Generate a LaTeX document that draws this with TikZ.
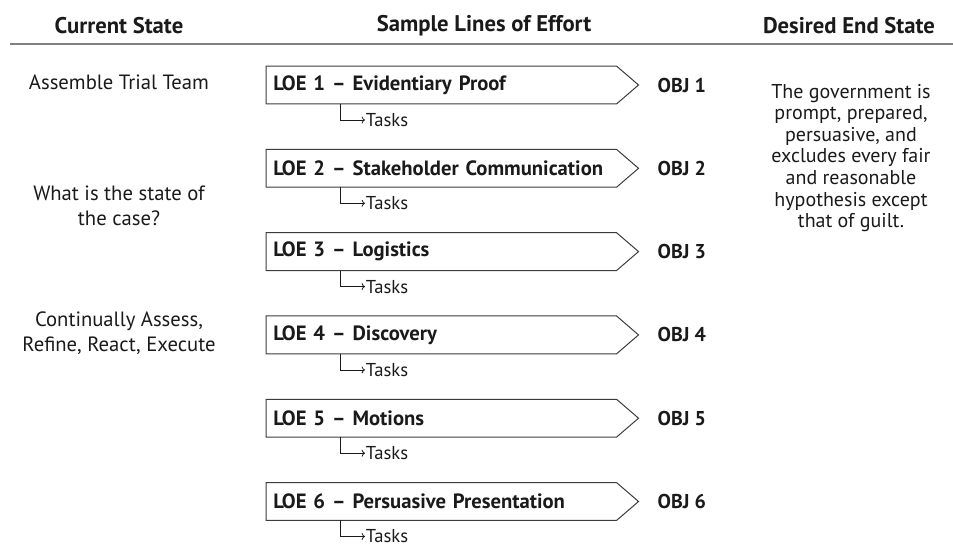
\documentclass[tikz,border=0pt]{standalone}
\usepackage{fontspec}
\setmainfont{PT Sans}
\usetikzlibrary{arrows.meta, positioning}

\definecolor{ink}{HTML}{1A1A1A}
\definecolor{rule}{HTML}{808080}

\tikzset{
  head/.style={font=\bfseries\fontsize{17}{20}\selectfont, text=ink},
  plain/.style={font=\fontsize{15.5}{18.75}\selectfont, text=ink, align=center},
  loebox/.style={minimum width=262.5pt, minimum height=28pt, inner sep=5pt,
    text width=252pt, align=left, font=\bfseries\fontsize{15.5}{18}\selectfont, text=ink},
  objlabel/.style={font=\bfseries\fontsize{15}{18}\selectfont, text=ink, anchor=west},
  tasklabel/.style={font=\fontsize{14}{16}\selectfont, text=ink, anchor=west, inner sep=0.5pt}
}

\begin{document}
\begin{tikzpicture}[x=0.75pt, y=-0.75pt]
  \useasboundingbox (0,0) rectangle (953,546);

  % column heads
  \node[head] (hcur) at (119,26) {Current State};
  \node[head] (hloe) at (484,26) {Sample Lines of Effort};
  \node[head] (hend) at (849,26) {Desired End State};
  \draw[rule, line width=1.5pt] (10,44) -- (953,44);

  % current state
  \node[plain] (cs1) at (119,82) {Assemble Trial Team};
  \node[plain] (cs2) at (119,206) {What is the state of\\the case?};
  \node[plain] (cs3) at (119,333) {Continually Assess,\\Refine, React, Execute};

  % lines of effort
  \foreach \i/\name in {1/Evidentiary Proof, 2/Stakeholder Communication, 3/Logistics,
                        4/Discovery, 5/Motions, 6/Persuasive Presentation} {
    \pgfmathsetmacro{\yy}{85+83.3*(\i-1)}
    \node[loebox, anchor=west] (loe\i) at (266,\yy) {LOE \i\ -- \name};
    \draw[ink!85, line width=0.75pt] (loe\i.north west) -- (loe\i.north east)
      -- ([xshift=16.5pt]loe\i.east) -- (loe\i.south east) -- (loe\i.south west) -- cycle;
    \node[objlabel] (obj\i) at (653,\yy) {OBJ \i};
    \node[tasklabel] (task\i) at (365,\yy+35) {Tasks};
    \draw[ink, line width=0.6pt, -{To[length=2.5pt]}]
      ([xshift=55.5pt]loe\i.south west) |- (task\i.west);
  }

  % desired end state
  \node[plain, font=\fontsize{15}{16.2}\selectfont] (des) at (851,158)
    {The government is\\prompt, prepared,\\persuasive, and\\excludes every fair\\and reasonable\\hypothesis except\\that of guilt.};
\end{tikzpicture}
\end{document}
